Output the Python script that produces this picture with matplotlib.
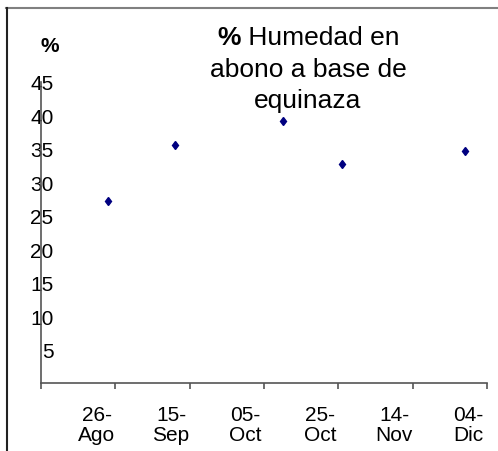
import matplotlib
matplotlib.use('Agg')
import matplotlib.pyplot as plt
from matplotlib.lines import Line2D
from matplotlib.transforms import ScaledTranslation, Bbox

plt.rcParams['font.family'] = ['Liberation Sans', 'DejaVu Sans']

# datos: dias desde el 11-Ago y % de humedad
dias = [18, 36, 65, 81, 114]
humedad = [27.2, 35.6, 39.2, 32.7, 34.7]

fechas = ['26-\nAgo', '15-\nSep', '05-\nOct', '25-\nOct', '14-\nNov', '04-\nDic']
pos_fechas = [15, 35, 55, 75, 95, 115]
y_ticks = [0, 5, 10, 15, 20, 25, 30, 35, 40, 45]

W, H = 498, 452
fig = plt.figure(figsize=(W / 100, H / 100), dpi=100)
ax = fig.add_axes([41 / W, 1 - 384 / H, (487 - 41) / W, (384 - 83) / H])

ax.plot(dias, humedad, linestyle='none', marker='d', markersize=4.5,
        color='#000080')

ax.set_xlim(0, 120)
ax.set_ylim(0, 45)

for s in ['top', 'right']:
    ax.spines[s].set_visible(False)
for s in ['left', 'bottom']:
    ax.spines[s].set_color('#555555')
    ax.spines[s].set_linewidth(1.2)

# eje x: marcas cada 20 dias, etiquetas entre ellas
ax.set_xticks(range(0, 121, 20))
ax.set_xticklabels([])
ax.tick_params(axis='x', which='major', direction='out', length=4,
               color='#555555', width=1.2)
ax.set_xticks(pos_fechas, minor=True)
ax.set_xticklabels(fechas, minor=True, fontsize=15, linespacing=1.1)
ax.tick_params(axis='x', which='minor', length=0, pad=15.5)

# eje y: etiquetas encima de la linea del eje
ax.set_yticks(y_ticks)
ax.set_yticklabels([str(v) for v in y_ticks], fontsize=15)
ax.tick_params(axis='y', length=0, pad=-9)
for lab in ax.get_yticklabels():
    lab.set_clip_on(False)
# el "0" aparece recortado en el original
cero = ax.get_yticklabels()[0]
cero.set_transform(cero.get_transform()
                   + ScaledTranslation(-6 / 100, -4.5 / 100, fig.dpi_scale_trans))
cero.set_clip_on(True)
cero.set_clip_box(Bbox([[0, 0], [35.5, H]]))

fig.text(50 / W, 1 - 47 / H, '%', fontsize=15, fontweight='bold',
         ha='center', va='center')

# titulo en tres lineas, con el % en negrita
fig.canvas.draw()
r = fig.canvas.get_renderer()
cx = 308
t1 = fig.text(0, 1 - 38 / H, '%', fontsize=19, fontweight='bold', va='center')
t2 = fig.text(0, 1 - 38 / H, ' Humedad en', fontsize=19, va='center')
w1 = t1.get_window_extent(r).width
w2 = t2.get_window_extent(r).width
x0 = cx - (w1 + w2) / 2
t1.set_x(x0 / W)
t2.set_x((x0 + w1) / W)
fig.text(cx / W, 1 - 70 / H, 'abono a base de', fontsize=19,
         ha='center', va='center')
fig.text(cx / W, 1 - 101 / H, 'equinaza', fontsize=19,
         ha='center', va='center')

# marco exterior
fig.add_artist(Line2D([6 / W, 1], [1 - 9 / H, 1 - 9 / H], color='#808080', lw=1.5))
fig.add_artist(Line2D([7 / W, 7 / W], [0, 1 - 9 / H], color='#222222', lw=1.5))

fig.savefig('out.png', dpi=100)
